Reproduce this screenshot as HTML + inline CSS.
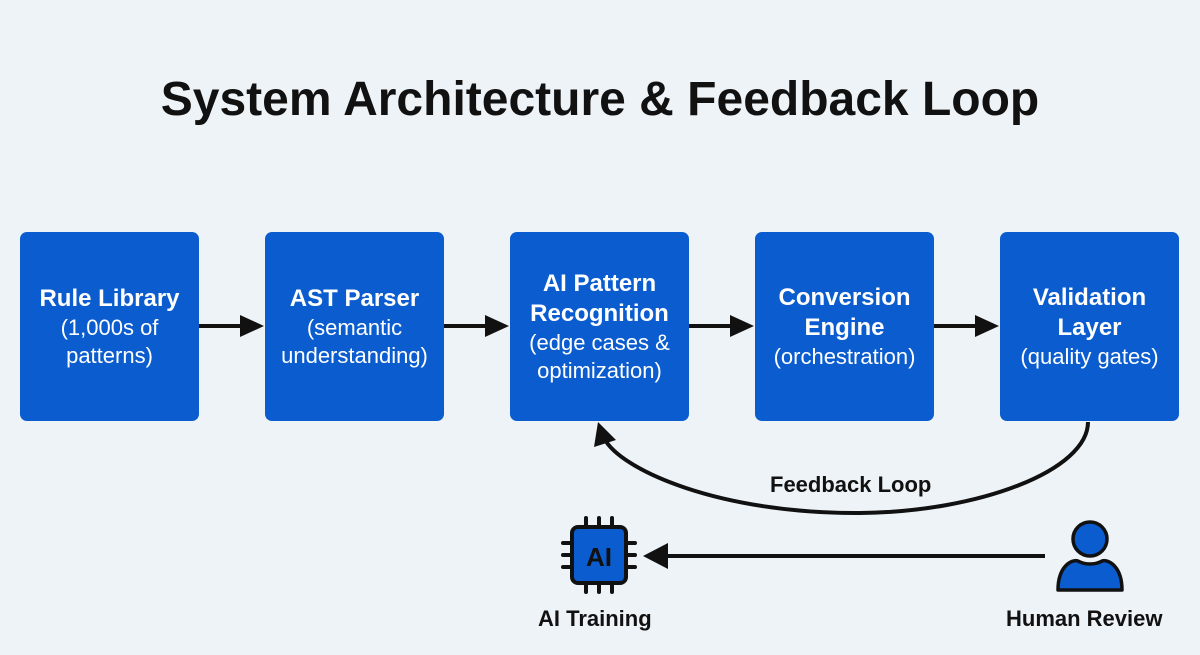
<!DOCTYPE html>
<html><head><meta charset="utf-8"><style>
html,body{margin:0;padding:0}
body{width:1200px;height:655px;background:#eef3f7;position:relative;overflow:hidden;font-family:"Liberation Sans",Arial,sans-serif}
.t{position:absolute;left:0;width:1200px;top:72px;text-align:center;font-weight:bold;font-size:48px;color:#111}
.b{position:absolute;top:232px;width:179px;height:189px;background:#0a5ccf;border-radius:7px;color:#fff;display:flex;flex-direction:column;justify-content:center;align-items:center;text-align:center;font-size:22px;line-height:28px}
.b b{font-size:24px;line-height:30px}
.l{position:absolute;font-weight:bold;color:#111;font-size:22px}
</style></head><body>
<div class="t">System Architecture &amp; Feedback Loop</div>
<div class="b" style="left:20px"><b>Rule Library</b>(1,000s of<br>patterns)</div>
<div class="b" style="left:265px"><b>AST Parser</b>(semantic<br>understanding)</div>
<div class="b" style="left:510px"><b>AI Pattern<br>Recognition</b>(edge cases &amp;<br>optimization)</div>
<div class="b" style="left:755px"><b>Conversion<br>Engine</b>(orchestration)</div>
<div class="b" style="left:1000px"><b>Validation<br>Layer</b>(quality gates)</div>
<svg width="1200" height="655" style="position:absolute;left:0;top:0">
<g stroke="#111" stroke-width="4" fill="#111">
<line x1="199" y1="326" x2="245" y2="326"/><polygon points="264,326 240,315 240,337" stroke="none"/>
<line x1="444" y1="326" x2="490" y2="326"/><polygon points="509,326 485,315 485,337" stroke="none"/>
<line x1="689" y1="326" x2="735" y2="326"/><polygon points="754,326 730,315 730,337" stroke="none"/>
<line x1="934" y1="326" x2="980" y2="326"/><polygon points="999,326 975,315 975,337" stroke="none"/>
<path d="M1088,422 C1088,470 980,512 860,513 C720,514 620,470 604,438" fill="none"/>
<polygon points="598,422 594,447 616,440" stroke="none"/>
<line x1="1045" y1="556" x2="660" y2="556"/><polygon points="643,556 668,543 668,569" stroke="none"/>
</g>
<g stroke="#111" stroke-width="4" stroke-linecap="round">
<line x1="586" y1="518" x2="586" y2="528"/><line x1="599" y1="518" x2="599" y2="528"/><line x1="612" y1="518" x2="612" y2="528"/>
<line x1="586" y1="582" x2="586" y2="592"/><line x1="599" y1="582" x2="599" y2="592"/><line x1="612" y1="582" x2="612" y2="592"/>
<line x1="563" y1="543" x2="573" y2="543"/><line x1="563" y1="555" x2="573" y2="555"/><line x1="563" y1="567" x2="573" y2="567"/>
<line x1="625" y1="543" x2="635" y2="543"/><line x1="625" y1="555" x2="635" y2="555"/><line x1="625" y1="567" x2="635" y2="567"/>
</g>
<rect x="572" y="527" width="54" height="56" rx="6" fill="#0a5ccf" stroke="#111" stroke-width="4"/>
<text x="599" y="566" text-anchor="middle" font-family="Liberation Sans,sans-serif" font-weight="bold" font-size="26" fill="#111">AI</text>
<circle cx="1090" cy="539" r="17" fill="#0a5ccf" stroke="#111" stroke-width="3.5"/>
<path d="M1058,590 C1058,566 1072,559 1078,561 C1085,565 1095,565 1102,561 C1108,559 1122,566 1122,590 Z" fill="#0a5ccf" stroke="#111" stroke-width="3.5" stroke-linejoin="round"/>
</svg>
<div class="l" style="left:770px;top:472px">Feedback Loop</div>
<div class="l" style="left:538px;top:606px">AI Training</div>
<div class="l" style="left:1006px;top:606px">Human Review</div>
</body></html>
